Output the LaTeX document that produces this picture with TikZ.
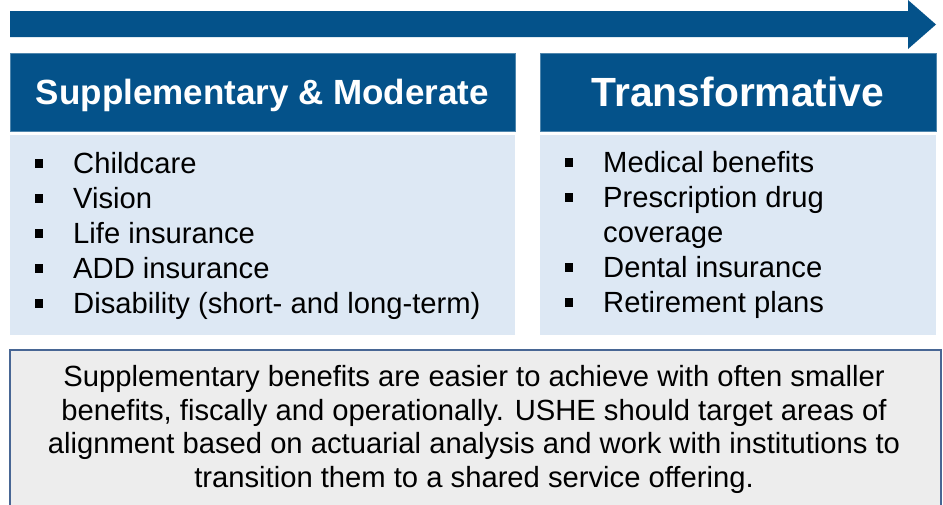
\documentclass[tikz,border=0pt]{standalone}
\usepackage{fontspec}
\setmainfont{Liberation Sans}
\usetikzlibrary{calc, positioning}
\definecolor{hdrblue}{RGB}{4,82,138}
\definecolor{bodyblue}{RGB}{221,232,244}
\definecolor{notegray}{RGB}{237,237,237}
\definecolor{noteline}{RGB}{72,102,148}
\newcommand{\sqbullet}{\rule[0.19em]{0.28em}{0.28em}}

\begin{document}
\begin{tikzpicture}[x=1pt, y=-1pt,
    header/.style={fill=hdrblue, draw=hdrblue!70!white, line width=0.8pt,
      text=white, inner sep=0pt, text depth=0pt},
    panel/.style={fill=bodyblue, inner sep=0pt},
    itemlist/.style={anchor=north west, inner sep=0pt,
      font=\fontsize{29.2}{35}\selectfont}]
  \useasboundingbox (0,0) rectangle (943,504);

  % progress arrow
  \fill[hdrblue] (10,11) -- (908,11) -- (908,0) -- (936,24.5)
    -- (908,49) -- (908,37) -- (10,37) -- cycle;

  % column headers
  \node[header, minimum width=505pt, minimum height=78pt, text height=25pt,
    font=\fontsize{35}{40}\selectfont\bfseries] (supphead) at (262.5,92)
    {Supplementary \& Moderate};
  \node[header, minimum width=396pt, minimum height=78pt, text height=29pt,
    font=\fontsize{40.8}{46}\selectfont\bfseries] (transhead) at (738,92)
    {Transformative};

  % column bodies
  \node[panel, minimum width=505pt, minimum height=200pt] (suppbody) at (262.5,235) {};
  \node[panel, minimum width=396pt, minimum height=200pt] (transbody) at (738,235) {};

  \node[itemlist] (supplist) at (35,148.5) {%
    \begin{tabular}{@{}p{38pt}@{}l@{}}
      \sqbullet & Childcare\\
      \sqbullet & Vision\\
      \sqbullet & Life insurance\\
      \sqbullet & ADD insurance\\
      \sqbullet & Disability (short- and long-term)
    \end{tabular}};
  \node[itemlist] (translist) at (565,147.5) {%
    \begin{tabular}{@{}p{38pt}@{}l@{}}
      \sqbullet & Medical benefits\\
      \sqbullet & Prescription drug\\
                & coverage\\
      \sqbullet & Dental insurance\\
      \sqbullet & Retirement plans
    \end{tabular}};

  % summary note
  \node[fill=notegray, draw=noteline, line width=1.2pt, inner sep=0pt,
    minimum width=931pt, minimum height=165pt] (notebox) at (475.5,432.5) {};
  \node[anchor=north, inner sep=0pt, align=center,
    font=\fontsize{29.2}{33.5}\selectfont] (notetext) at (474,365.5)
    {Supplementary benefits are easier to achieve with often smaller\\
     benefits, fiscally and operationally. USHE should target areas of\\
     alignment based on actuarial analysis and work with institutions to\\
     transition them to a shared service offering.};
\end{tikzpicture}
\end{document}
